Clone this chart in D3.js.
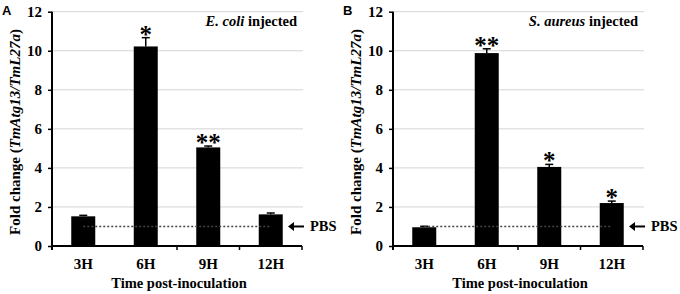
<!DOCTYPE html>
<html>
<head>
<meta charset="utf-8">
<script src="https://cdn.jsdelivr.net/npm/d3@7"></script>
<style>
  body { margin: 0; background: #fff; }
  svg { display: block; }
  text { font-family: "Liberation Serif", "Times New Roman", serif; font-weight: bold; fill: #000; }
</style>
</head>
<body>
<svg id="chart" width="680" height="294"></svg>
<script>
// data
var categories = ["3H", "6H", "9H", "12H"];
var yTicks = [0, 2, 4, 6, 8, 10, 12];
var pbsLevel = 1;

var ecoliMeans = [1.52, 10.22, 5.05, 1.62];
var ecoliErr = [0.05, 0.45, 0.07, 0.07];
var ecoliSig = ["", "*", "**", ""];

var aureusMeans = [0.96, 9.88, 4.05, 2.2];
var aureusErr = [0.05, 0.22, 0.13, 0.1];
var aureusSig = ["", "**", "*", "*"];

var svg = d3.select("#chart");

var axisX = 52, plotRight = 302, gridRight = 303,
    yTop = 11.7, yBottom = 246, barW = 24;

function drawPanel(offset, letter, bug, means, errs, sig) {
    var g = svg.append("g").attr("transform", "translate(" + offset + ",0)");

    var x = d3.scaleBand().domain(categories).range([axisX, plotRight]);
    var y = d3.scaleLinear().domain([0, 12]).range([yBottom, yTop]);
    var cx = d => x(d) + x.bandwidth() / 2;

    var rows = categories.map(function(c, i) {
        return {cat: c, mean: means[i], err: errs[i], sig: sig[i]};
    });

    // gridlines
    g.selectAll(".grid")
        .data(yTicks.filter(function(d) { return d > 0; }))
        .enter().append("line")
        .attr("x1", axisX).attr("x2", gridRight)
        .attr("y1", d => y(d)).attr("y2", d => y(d))
        .attr("stroke", "#d4d4d4").attr("stroke-width", 1);

    // bars
    g.selectAll(".bar")
        .data(rows)
        .enter().append("rect")
        .attr("x", d => cx(d.cat) - barW / 2)
        .attr("width", barW)
        .attr("y", d => y(d.mean))
        .attr("height", d => y(0) - y(d.mean))
        .attr("fill", "#000");

    // error bars (upper only)
    var eb = g.selectAll(".err").data(rows).enter().append("g");
    eb.append("line")
        .attr("x1", d => cx(d.cat)).attr("x2", d => cx(d.cat))
        .attr("y1", d => y(d.mean))
        .attr("y2", d => y(d.mean + d.err))
        .attr("stroke", "#000").attr("stroke-width", 1.5);
    eb.append("line")
        .attr("x1", d => cx(d.cat) - 4).attr("x2", d => cx(d.cat) + 4)
        .attr("y1", d => y(d.mean + d.err))
        .attr("y2", d => y(d.mean + d.err))
        .attr("stroke", "#000").attr("stroke-width", 1.5);

    // significance stars
    g.selectAll(".sig")
        .data(rows.filter(d => d.sig))
        .enter().append("text")
        .attr("x", d => cx(d.cat))
        .attr("y", d => y(d.mean + d.err) + 5)
        .attr("text-anchor", "middle")
        .style("font-size", "25px")
        .text(d => d.sig);

    // PBS reference line, from first to last bar centre
    g.append("line")
        .attr("x1", cx(categories[0]))
        .attr("x2", cx(categories[categories.length - 1]))
        .attr("y1", y(pbsLevel)).attr("y2", y(pbsLevel))
        .attr("stroke", "#444").attr("stroke-width", 1.5)
        .attr("stroke-dasharray", "2,2");

    g.append("line")
        .attr("x1", 292).attr("x2", 304)
        .attr("y1", y(pbsLevel)).attr("y2", y(pbsLevel))
        .attr("stroke", "#000").attr("stroke-width", 2);
    g.append("path")
        .attr("d", "M288," + y(pbsLevel) + "l6,-4.5v9z")
        .attr("fill", "#000");
    g.append("text")
        .attr("x", 310).attr("y", y(pbsLevel) + 5)
        .style("font-size", "14.5px")
        .text("PBS");

    // y axis
    var yAxis = g.append("g")
        .attr("transform", "translate(" + axisX + ",0)")
        .call(d3.axisLeft(y).tickValues(yTicks).tickSize(4).tickPadding(6).tickSizeOuter(0));
    yAxis.select(".domain").attr("stroke-width", 2).attr("d", "M0," + (yTop) + "V" + (yBottom + 4));
    yAxis.selectAll(".tick line").attr("stroke-width", 1.5);
    yAxis.selectAll(".tick text")
        .style("font-size", "15px")
        .attr("font-family", null);

    // x axis
    var xAxis = g.append("g")
        .attr("transform", "translate(0," + yBottom + ")")
        .call(d3.axisBottom(x).tickSize(0).tickPadding(12));
    xAxis.select(".domain").attr("stroke-width", 2).attr("d", "M" + axisX + ",0H" + plotRight);
    xAxis.selectAll(".tick text")
        .style("font-size", "15px")
        .attr("font-family", null);
    xAxis.selectAll(".sep")
        .data(categories.slice(1))
        .enter().append("line")
        .attr("x1", d => x(d) + x.bandwidth()).attr("x2", d => x(d) + x.bandwidth())
        .attr("y1", 0).attr("y2", 4)
        .attr("stroke", "#000").attr("stroke-width", 1.5);

    // titles
    g.append("text")
        .attr("x", (axisX + plotRight) / 2 + 2)
        .attr("y", 288)
        .attr("text-anchor", "middle")
        .style("font-size", "14.5px")
        .text("Time post-inoculation");

    var yt = g.append("text")
        .attr("transform", "translate(20,132) rotate(-90)")
        .attr("text-anchor", "middle")
        .style("font-size", "15px");
    yt.append("tspan").text("Fold change (");
    yt.append("tspan").style("font-style", "italic").text("TmAtg13/TmL27a");
    yt.append("tspan").text(")");

    var lab = g.append("text")
        .attr("x", 297).attr("y", 26)
        .attr("text-anchor", "end")
        .style("font-size", "14.5px");
    lab.append("tspan").style("font-style", "italic").text(bug);
    lab.append("tspan").text(" injected");

    g.append("text")
        .attr("x", 2).attr("y", 15)
        .style("font-family", "'Liberation Sans', Arial, sans-serif")
        .style("font-size", "13px")
        .text(letter);
}

drawPanel(0, "A", "E. coli", ecoliMeans, ecoliErr, ecoliSig);
drawPanel(341, "B", "S. aureus", aureusMeans, aureusErr, aureusSig);
</script>
</body>
</html>
